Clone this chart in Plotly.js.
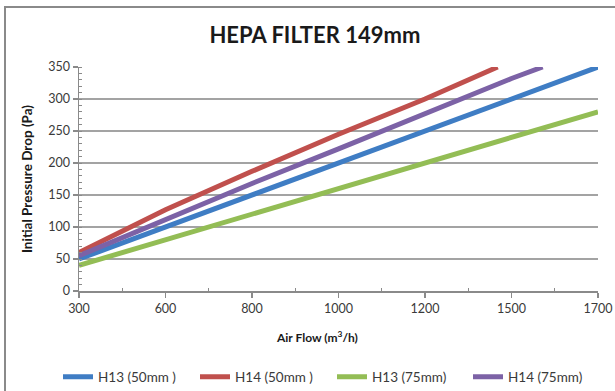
<!DOCTYPE html>
<html>
<head>
<meta charset="utf-8">
<script src="https://cdn.plot.ly/plotly-3.0.1.min.js"></script>
<style>
  html, body { margin: 0; padding: 0; background: #fff; }
  #wrap { position: relative; width: 615px; height: 391px; overflow: hidden; }
  #chart { width: 615px; height: 391px; }
  #frame { position: absolute; left: 4px; top: 6px; right: -4px; bottom: -4px;
           border-left: 2px solid #8a8a8a; border-top: 2px solid #8a8a8a; pointer-events: none; }
</style>
</head>
<body>
<div id="wrap"><div id="chart"></div><div id="frame"></div></div>
<script>
// Category tick labels (evenly spaced positions 0..6 on the axis)
const tickLabels = ["300", "600", "800", "1000", "1200", "1500", "1700"];

// Positions along the flow axis (tick index units) and pressure drop values (Pa)
const h13_50_x = [0, 1, 2, 3, 4, 5, 6];
const h13_50_y = [50, 100, 150, 200, 250, 300, 350];

const h14_50_x = [0, 1, 2, 3, 4, 4.84];
const h14_50_y = [60, 127, 187, 245, 300, 350];

const h13_75_x = [0, 1, 2, 3, 4, 5, 6];
const h13_75_y = [40, 80, 120, 160, 200, 240, 280];

const h14_75_x = [0, 1, 2, 3, 4, 5, 5.36];
const h14_75_y = [55, 112, 168, 222, 278, 332, 350];

const seriesNames = ["H13 (50mm )", "H14 (50mm )", "H13 (75mm)", "H14 (75mm)"];
const seriesColors = ["#3F7DC4", "#C0504D", "#93BD55", "#7C62A6"];

const FONT = "Lato, 'Open Sans', sans-serif";
const xs = [h13_50_x, h14_50_x, h13_75_x, h14_75_x];
const ys = [h13_50_y, h14_50_y, h13_75_y, h14_75_y];
const legendIds = ["legend", "legend2", "legend3", "legend4"];
const legendX = [58, 195, 332, 468];

const traces = xs.map((x, i) => ({
  type: "scatter",
  mode: "lines",
  name: seriesNames[i],
  legend: legendIds[i],
  x: x,
  y: ys[i],
  line: { color: seriesColors[i], width: 5, shape: "linear" },
  hoverinfo: "x+y+name"
}));

const layout = {
  width: 615,
  height: 391,
  margin: { l: 79, r: 17, t: 67, b: 100, autoexpand: false },
  paper_bgcolor: "#ffffff",
  plot_bgcolor: "#ffffff",
  font: { family: FONT, size: 12, color: "#404040" },
  title: {
    text: "<b>HEPA FILTER 149mm</b>",
    font: { family: FONT, size: 22, color: "#1a1a1a" },
    xref: "container", x: 0.512, xanchor: "center",
    yref: "container", y: 0.91, yanchor: "middle"
  },
  xaxis: {
    range: [0, 6],
    tickmode: "array",
    tickvals: tickLabels.map((_, i) => i),
    ticktext: tickLabels,
    showgrid: false,
    zeroline: false,
    showline: true,
    linecolor: "#8a8a8a",
    linewidth: 1.5,
    ticks: "outside",
    ticklen: 5,
    tickcolor: "#8a8a8a",
    tickwidth: 1.5,
    tickfont: { family: FONT, size: 12.5, color: "#3a3a3a" },
    minor: { tickvals: [0.5, 1.5, 2.5, 3.5, 4.5, 5.5], ticks: "inside", ticklen: 3, tickcolor: "#8a8a8a", tickwidth: 1, showgrid: false },
    fixedrange: true
  },
  yaxis: {
    range: [0, 350],
    tickmode: "linear",
    tick0: 0,
    dtick: 50,
    showgrid: true,
    gridcolor: "#a3a3a3",
    gridwidth: 1.5,
    zeroline: false,
    showline: true,
    linecolor: "#8a8a8a",
    linewidth: 1.5,
    ticks: "outside",
    ticklen: 5,
    tickcolor: "#8a8a8a",
    tickwidth: 1.5,
    tickfont: { family: FONT, size: 12.5, color: "#3a3a3a" },
    minor: { dtick: 10, ticks: "inside", ticklen: 3, tickcolor: "#8a8a8a", tickwidth: 1, showgrid: false },
    title: {
      text: "<b>Initial Pressure Drop (Pa)</b>",
      font: { family: FONT, size: 13.5, color: "#1a1a1a" },
      standoff: 12
    },
    fixedrange: true
  },
  annotations: [{
    text: "<b>Air Flow (m<sup>3</sup>/h)</b>",
    xref: "paper", yref: "paper",
    x: 0.459, y: -0.205,
    xanchor: "center", yanchor: "middle",
    showarrow: false,
    font: { family: FONT, size: 12, color: "#1a1a1a" }
  }],
  showlegend: true
};

legendIds.forEach((id, i) => {
  layout[id] = {
    orientation: "h",
    xref: "container", yref: "container",
    x: legendX[i] / 615, xanchor: "left",
    y: 0.036, yanchor: "middle",
    font: { family: FONT, size: 13.5, color: "#3a3a3a" },
    bgcolor: "rgba(0,0,0,0)",
    itemsizing: "constant"
  };
});

Plotly.newPlot("chart", traces, layout, { displayModeBar: false, staticPlot: true });
</script>
</body>
</html>
